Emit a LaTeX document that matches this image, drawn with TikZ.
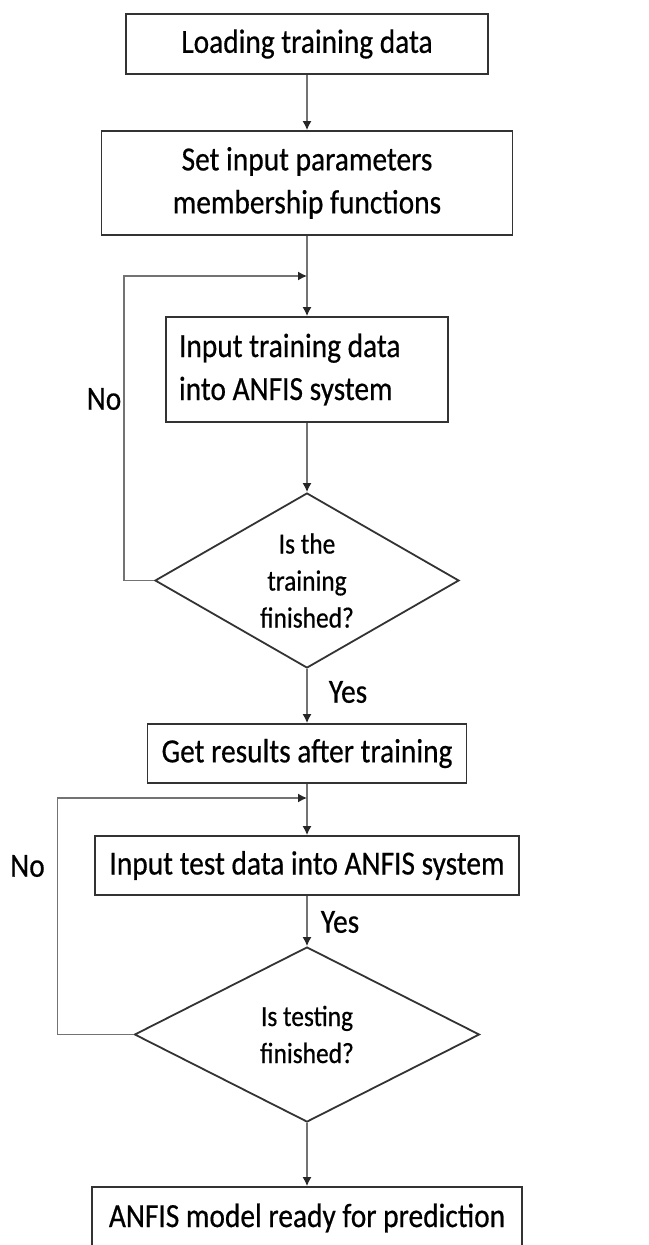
\documentclass[tikz,border=0pt]{standalone}
\usepackage{fontspec}
\setmainfont{Carlito}[FakeStretch=0.87, FakeBold=0.5]
\usetikzlibrary{arrows.meta,shapes.geometric}
\begin{document}
\begin{tikzpicture}[x=0.5pt, y=-0.5pt,
  blk/.style={rectangle, draw=black!80, line width=0.9pt, fill=white, inner sep=0pt, align=center, font=\fontsize{16.9}{21.5}\selectfont},
  dec/.style={diamond, draw=black!80, line width=0.9pt, fill=white, inner sep=0pt},
  dtxt/.style={align=center, inner sep=0pt, font=\fontsize{14.6}{18.5}\selectfont},
  lbl/.style={inner sep=0pt, font=\fontsize{16.9}{21.5}\selectfont},
  arr/.style={draw=black!55, line width=0.7pt, -{Latex[length=4.5pt, width=4.5pt, color=black!85]}}]
\useasboundingbox (0,0) rectangle (648,1245);
\node[blk, minimum width=181pt, minimum height=30pt] (b1) at (307,44) {Loading training data};
\node[blk, minimum width=205.5pt, minimum height=52pt] (b2) at (307,183) {Set input parameters\\membership functions};
\node[blk, minimum width=141pt, minimum height=52.5pt, text width=128pt, align=flush left] (b3) at (307,369.5) {Input training data\\into ANFIS system};
\node[dec, minimum width=152pt, minimum height=87.5pt] (d1) at (307,580.5) {};
\node[dtxt] (d1t) at (d1) {Is the\\training\\finished?};
\node[blk, minimum width=159.5pt, minimum height=29.5pt] (b4) at (307,753.5) {Get results after training};
\node[blk, minimum width=212pt, minimum height=29.5pt] (b5) at (307,865.5) {Input test data into ANFIS system};
\node[dec, minimum width=172.5pt, minimum height=87.5pt] (d2) at (307,1034.5) {};
\node[dtxt] (d2t) at (d2) {Is testing\\finished?};
\node[blk, minimum width=215pt, minimum height=31pt] (b6) at (307,1218) {ANFIS model ready for prediction};
% the two "No" loops come back into the main line just above b3 and b5
\coordinate (j1) at (307,276);
\coordinate (j2) at (307,798);
\draw[arr] (b1.south) -- (b2.north);
\draw[arr] (b2.south) -- (b3.north);
\draw[arr] (b3.south) -- (d1.north);
\draw[arr] (d1.south) -- (b4.north);
\draw[arr] (b4.south) -- (b5.north);
\draw[arr] (b5.south) -- (d2.north);
\draw[arr] (d2.south) -- (b6.north);
\draw[arr] (d1.west) -- ++(-30,0) |- (j1);
\draw[arr] (d2.west) -- ++(-76,0) |- (j2);
\node[lbl] (no1) at (104,399) {No};
\node[lbl] (yes1) at (348,692) {Yes};
\node[lbl] (no2) at (27.5,866) {No};
\node[lbl] (yes2) at (340,922) {Yes};
\end{tikzpicture}
\end{document}
